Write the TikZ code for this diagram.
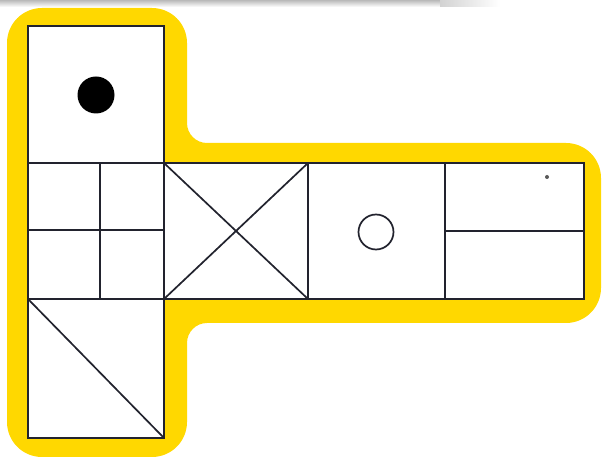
\documentclass[tikz,border=0pt]{standalone}
\definecolor{ylw}{HTML}{FFD800}
\definecolor{ink}{HTML}{22232E}
\begin{document}
\begin{tikzpicture}[x=1pt,y=1pt,
  ln/.style={draw=ink,line width=1.7pt},
  sq/.style={draw=ink,line width=1.7pt,fill=white}]
\useasboundingbox (0,0) rectangle (603,458);
% top shadow
\fill[top color=gray!55,bottom color=white] (0,451) rectangle (440,458);
\fill[left color=gray!35,right color=white] (440,451) rectangle (500,458);
% yellow outline shape
\def\R{35}\def\r{20}
\fill[ylw] (7,1+\R) -- (7,450-\R) arc(180:90:\R) -- (187-\R,450) arc(90:0:\R)
  -- (187,315+\r) arc(180:270:\r) -- (601-\R,315) arc(90:0:\R)
  -- (601,135+\R) arc(0:-90:\R) -- (187+\r,135) arc(90:180:\r)
  -- (187,1+\R) arc(0:-90:\R) -- (7+\R,1) arc(270:180:\R) -- cycle;
% squares
\draw[sq] (28,295) rectangle (164,432);
\draw[sq] (28,159) rectangle (584,295);
\draw[sq] (28,20) rectangle (164,159);
\draw[ln] (164,159) -- (164,295);
\draw[ln] (308,159) -- (308,295);
\draw[ln] (445,159) -- (445,295);
% square 1 grid
\draw[ln] (100,159) -- (100,295);
\draw[ln] (28,228) -- (164,228);
% square 2 cross
\draw[ln] (164,159) -- (308,295);
\draw[ln] (164,295) -- (308,159);
% square 3 circle
\draw[ink,line width=1.7pt] (376,226) circle (17.5);
% square 4 line
\draw[ln] (445,227) -- (584,227);
% bottom diagonal
\draw[ln] (28,159) -- (164,20);
% dot
\fill[black] (96,363) circle (18.5);
\fill[gray!70!black] (547,281) circle (2);
\end{tikzpicture}
\end{document}
